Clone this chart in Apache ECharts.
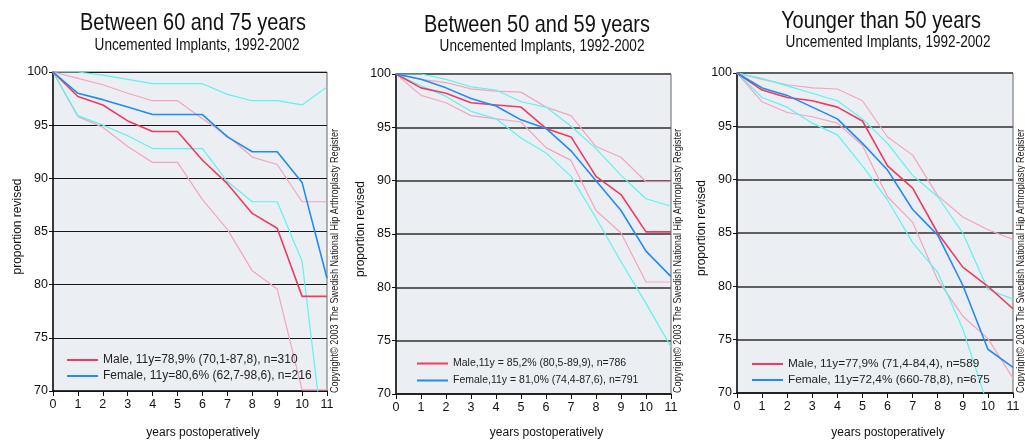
<!DOCTYPE html>
<html>
  <head>
    <meta charset="utf-8" />
    <style>
      body {margin: 0; background: #fff;}
      #chart {width: 1025px; height: 441px;}
    </style>
    <script src="https://cdn.jsdelivr.net/npm/echarts@6.0.0/dist/echarts.min.js"></script>
  </head>
  <body>
    <div id="chart"></div>
    <script type="text/javascript">
      var years = [0, 1, 2, 3, 4, 5, 6, 7, 8, 9, 10, 11];

      // Between 60 and 75 years
      var p1Male       = [100, 97.7, 96.9, 95.4, 94.4, 94.4, 91.7, 89.5, 86.7, 85.3, 78.9, 78.9];
      var p1MaleHi     = [100, 99.4, 98.8, 98.0, 97.3, 97.3, 95.6, 94.0, 92.0, 91.3, 87.8, 87.8];
      var p1MaleLo     = [100, 95.8, 94.8, 93.0, 91.5, 91.5, 88.0, 85.2, 81.3, 79.6, 70.1, 70.1];
      var p1Female     = [100, 98.0, 97.4, 96.7, 96.0, 96.0, 96.0, 93.9, 92.5, 92.5, 89.6, 80.6];
      var p1FemaleHi   = [100, 100, 99.7, 99.3, 98.9, 98.9, 98.9, 97.9, 97.3, 97.3, 96.9, 98.6];
      var p1FemaleLo   = [100, 95.9, 95.0, 94.0, 92.8, 92.8, 92.8, 89.7, 87.8, 87.8, 82.2, 62.7];

      // Between 50 and 59 years
      var p2Male       = [100, 98.7, 98.2, 97.3, 97.1, 96.9, 94.9, 94.1, 90.4, 88.7, 85.2, 85.2];
      var p2MaleHi     = [100, 99.5, 99.2, 98.6, 98.4, 98.3, 96.9, 96.1, 93.2, 92.2, 89.9, 89.9];
      var p2MaleLo     = [100, 98.0, 97.3, 96.1, 95.8, 95.5, 93.1, 91.9, 87.2, 85.1, 80.5, 80.5];
      var p2Female     = [100, 99.5, 98.7, 97.7, 97.0, 95.7, 94.9, 92.8, 90.0, 87.2, 83.4, 81.0];
      var p2FemaleHi   = [100, 100, 99.5, 98.8, 98.5, 97.4, 96.9, 95.1, 93.0, 90.5, 88.3, 87.6];
      var p2FemaleLo   = [100, 98.9, 97.9, 96.5, 95.8, 94.0, 92.6, 90.4, 86.5, 82.4, 78.5, 74.4];

      // Younger than 50 years
      var p3Male       = [100, 98.4, 97.7, 97.4, 96.8, 95.5, 91.3, 89.2, 85.0, 81.8, 80.0, 77.9];
      var p3MaleHi     = [100, 99.4, 98.9, 98.6, 98.5, 97.4, 94.0, 92.3, 88.5, 86.5, 85.3, 84.4];
      var p3MaleLo     = [100, 97.3, 96.3, 95.9, 95.3, 93.2, 88.4, 86.0, 80.6, 77.2, 75.1, 71.4];
      var p3Female     = [100, 98.6, 97.9, 96.8, 95.7, 93.4, 90.9, 87.2, 84.8, 80.1, 74.1, 72.4];
      var p3FemaleHi   = [100, 99.5, 98.8, 98.1, 97.4, 95.7, 93.4, 90.4, 88.4, 85.0, 79.7, 78.8];
      var p3FemaleLo   = [100, 97.7, 96.8, 95.3, 94.2, 91.3, 88.1, 84.1, 81.3, 76.0, 68.8, 66.0];

      var titles = ['Between 60 and 75 years', 'Between 50 and 59 years', 'Younger than 50 years'];
      var subtitle = 'Uncemented Implants, 1992-2002';
      var maleNames = ['Male, 11y=78,9% (70,1-87,8), n=310', 'Male,11y = 85,2% (80,5-89,9), n=786',
                       'Male, 11y=77,9% (71,4-84,4), n=589'];
      var femaleNames = ['Female, 11y=80,6% (62,7-98,6), n=216', 'Female,11y = 81,0% (74,4-87,6), n=791',
                         'Female, 11y=72,4% (660-78,8), n=675'];
      var yName = 'proportion revised';
      var xName = 'years postoperatively';
      var copyright = 'Copyright\u00a9 2003 The Swedish National Hip Arthroplasty Register';

      var panels = [
        [p1Male, p1MaleHi, p1MaleLo, p1Female, p1FemaleHi, p1FemaleLo],
        [p2Male, p2MaleHi, p2MaleLo, p2Female, p2FemaleHi, p2FemaleLo],
        [p3Male, p3MaleHi, p3MaleLo, p3Female, p3FemaleHi, p3FemaleLo]
      ];

      var sans = '"Liberation Sans", Arial, sans-serif';
      var red = '#f03a5f', pink = '#f7a3bb', blue = '#2389f7', cyan = '#5ef2f0';

      // layout of the three panels
      var grids = [
        {left: 53, top: 72, width: 274, height: 319},
        {left: 396, top: 74, width: 275, height: 320},
        {left: 737, top: 73, width: 276, height: 320}
      ];
      var titlePos = [[193, 23, 197, 46], [537, 25, 542, 47], [881, 21, 888, 43]];
      var legendPos = [[67, 354], [417, 358], [752, 358]];
      var legendFont = [12, 10.5, 11.8];
      var legendGap = [4, 6, 4];
      var copyX = [335, 678, 1021];
      var gridColor = ['#1a1a1a', '#5f5f5f', '#5f5f5f'];
      var gridWidth = [1.2, 2, 2];

      function line(name, data, color, width, ax) {
        return {
          name: name, type: 'line', xAxisIndex: ax, yAxisIndex: ax,
          data: years.map(function (x, i) { return [x, data[i]]; }),
          symbol: 'none', color: color, clip: true,
          lineStyle: {color: color, width: width}, z: 3
        };
      }

      var option = {
        animation: false,
        backgroundColor: '#fff',
        grid: [], xAxis: [], yAxis: [], series: [], legend: [], graphic: []
      };

      for (var i = 0; i < 3; i++) {
        var g = grids[i];
        option.grid.push({left: g.left, top: g.top, width: g.width, height: g.height,
          show: true, backgroundColor: '#ebeff3', borderColor: '#666', borderWidth: 1});
        option.xAxis.push({
          gridIndex: i, type: 'value', min: 0, max: 11, interval: 1,
          axisLine: {lineStyle: {color: '#111', width: 1.5}},
          axisTick: {length: 5, lineStyle: {color: '#111'}},
          axisLabel: {fontFamily: sans, fontSize: 12.5, color: '#111', margin: 7},
          splitLine: {show: false}
        });
        option.yAxis.push({
          gridIndex: i, type: 'value', min: 70, max: 100, interval: 5,
          axisLine: {show: true, lineStyle: {color: '#111', width: 1.5}},
          axisTick: {show: true, length: 4, lineStyle: {color: '#111'}},
          axisLabel: {fontFamily: sans, fontSize: 12.5, color: '#111', margin: 5},
          splitLine: {show: true, lineStyle: {color: gridColor[i], width: gridWidth[i]}}
        });
        var d = panels[i];
        option.series.push(
          line('m-hi-' + i, d[1], pink, 1.2, i),
          line('m-lo-' + i, d[2], pink, 1.2, i),
          line('f-hi-' + i, d[4], cyan, 1.2, i),
          line('f-lo-' + i, d[5], cyan, 1.2, i),
          line(maleNames[i], d[0], red, 1.6, i),
          line(femaleNames[i], d[3], blue, 1.6, i)
        );
        option.legend.push({
          data: [maleNames[i], femaleNames[i]],
          orient: 'vertical', left: legendPos[i][0], top: legendPos[i][1], padding: 0,
          icon: 'rect', itemWidth: 31, itemHeight: 2, itemGap: legendGap[i],
          selectedMode: false,
          textStyle: {fontFamily: sans, fontSize: legendFont[i], color: '#222'}
        });
        var cx = g.left + g.width / 2;
        option.graphic.push(
          {type: 'text', x: titlePos[i][0], y: titlePos[i][1], scaleX: 0.83,
           style: {text: titles[i], font: '24px ' + sans, fill: '#111', textAlign: 'center', textVerticalAlign: 'middle'}},
          {type: 'text', x: titlePos[i][2], y: titlePos[i][3], scaleX: 0.85,
           style: {text: subtitle, font: '16px ' + sans, fill: '#111', textAlign: 'center', textVerticalAlign: 'middle'}},
          {type: 'text', x: g.left - 35, y: g.top + g.height / 2 - 5, rotation: Math.PI / 2,
           style: {text: yName, font: '12px ' + sans, fill: '#111', textAlign: 'center', textVerticalAlign: 'middle'}},
          {type: 'text', x: cx + 13, y: 433,
           style: {text: xName, font: '12px ' + sans, fill: '#111', textAlign: 'center', textVerticalAlign: 'middle'}},
          {type: 'text', x: copyX[i], y: 393, rotation: Math.PI / 2, scaleX: 0.83,
           style: {text: copyright, font: '11px ' + sans, fill: '#222', textAlign: 'left', textVerticalAlign: 'middle'}}
        );
      }

      var chart = echarts.init(document.getElementById('chart'));
      chart.setOption(option);
    </script>
  </body>
</html>
